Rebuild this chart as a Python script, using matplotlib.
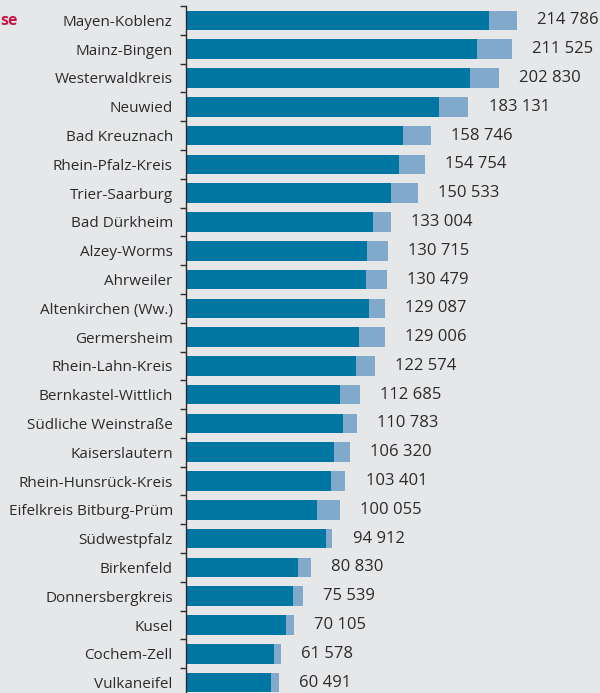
import matplotlib.pyplot as plt
import numpy as np

plt.rcParams['font.family'] = ['Open Sans', 'DejaVu Sans']

districts = ["Mayen-Koblenz", "Mainz-Bingen", "Westerwaldkreis", "Neuwied",
             "Bad Kreuznach", "Rhein-Pfalz-Kreis", "Trier-Saarburg", "Bad Dürkheim",
             "Alzey-Worms", "Ahrweiler", "Altenkirchen (Ww.)", "Germersheim",
             "Rhein-Lahn-Kreis", "Bernkastel-Wittlich", "Südliche Weinstraße",
             "Kaiserslautern", "Rhein-Hunsrück-Kreis", "Eifelkreis Bitburg-Prüm",
             "Südwestpfalz", "Birkenfeld", "Donnersbergkreis", "Kusel",
             "Cochem-Zell", "Vulkaneifel"]
totals = [214786, 211525, 202830, 183131, 158746, 154754, 150533, 133004,
          130715, 130479, 129087, 129006, 122574, 112685, 110783, 106320,
          103401, 100055, 94912, 80830, 75539, 70105, 61578, 60491]
# dark part of each bar
dark = [196200, 188900, 184100, 164200, 140900, 137800, 133100, 121400,
        117500, 116900, 118400, 112400, 110400, 100000, 101800, 95900,
        94200, 85100, 90500, 72400, 69100, 65000, 56800, 55300]
light = [t - d for t, d in zip(totals, dark)]

bg = '#e6e7e9'
dark_col = '#0076a3'
light_col = '#80a9cc'
text_col = '#2b2b2b'

fig = plt.figure(figsize=(6.0, 6.93), dpi=100, facecolor=bg)
ax = fig.add_axes([186 / 600, (693 - 697) / 693, 414 / 600, 691 / 693])
ax.set_facecolor(bg)

y = np.arange(len(districts))
ax.barh(y, dark, height=0.68, color=dark_col, linewidth=0)
ax.barh(y, light, left=dark, height=0.68, color=light_col, linewidth=0)

for yi, t in zip(y, totals):
    label = f"{t:,}".replace(",", " ")
    ax.annotate(label, (t, yi), xytext=(14.5, 0), textcoords='offset points',
                va='center', ha='left', fontsize=12, color=text_col)

ax.set_ylim(len(districts) - 0.5, -0.5)
ax.set_xlim(0, 414 * 648.3)

ax.set_yticks(y)
ax.set_yticklabels(districts, fontsize=11, color=text_col)
ax.tick_params(axis='y', which='major', length=0, pad=9.5)
ax.set_yticks(np.arange(-0.5, len(districts), 1), minor=True)
ax.tick_params(axis='y', which='minor', length=4, width=1, color=text_col)
ax.set_xticks([])

for side in ['top', 'right', 'bottom']:
    ax.spines[side].set_visible(False)
ax.spines['left'].set_color(text_col)
ax.spines['left'].set_linewidth(1)

fig.text(0.5 / 600, 1 - 21 / 693, "se", ha='left', va='center',
         fontsize=11.5, fontweight='bold', color='#c8174a')

fig.savefig('out.png', dpi=100, facecolor=bg)
